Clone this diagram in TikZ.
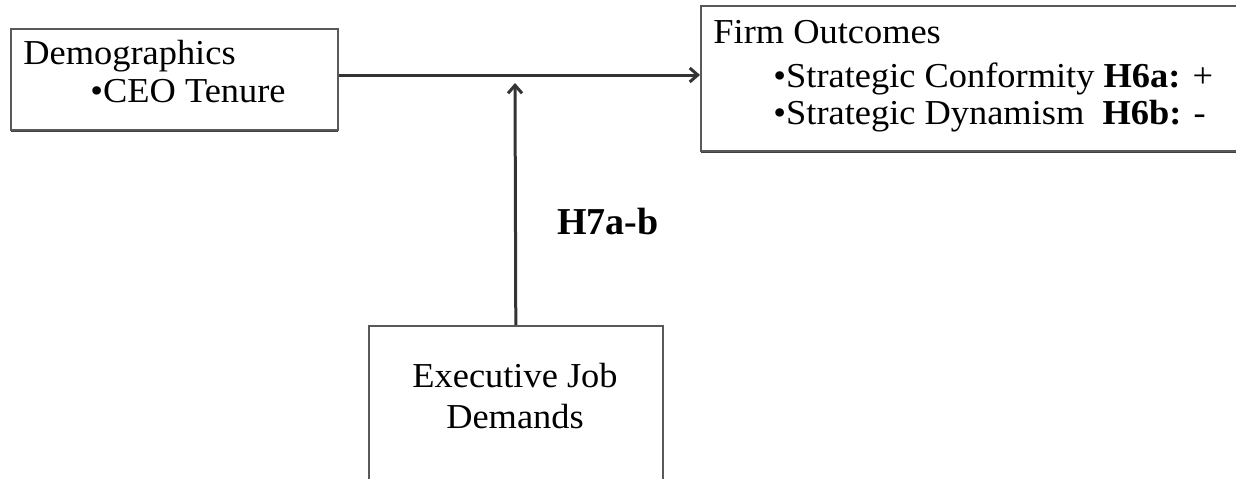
\documentclass[tikz,border=0pt]{standalone}
\usepackage{fontspec}
\setmainfont[FakeStretch=1.04]{Liberation Serif}
\newfontfamily\labelfont{Liberation Serif}
\usetikzlibrary{arrows.meta,shadows}

\begin{document}
\begin{tikzpicture}[x=0.5pt,y=-0.5pt,
  box/.style={draw=black!65, line width=0.8pt, fill=white, rectangle, inner sep=0pt,
    drop shadow={shadow xshift=0pt, shadow yshift=-1.3pt, fill=black!75, opacity=1}},
  txt/.style={anchor=base west, inner sep=0pt, font=\fontsize{17.5pt}{20pt}\selectfont},
  link/.style={line width=1.5pt, draw=black!80, -{Straight Barb[length=4pt,width=7pt]}}]
  \useasboundingbox (0,0) rectangle (1236,478);
  \clip (0,0) rectangle (1236,478);

  % boxes
  \node[box, minimum width=163.5pt, minimum height=50.5pt, anchor=north west] (dem) at (10,28) {};
  \node[box, minimum width=275pt, minimum height=72.5pt, anchor=north west] (firm) at (700,5) {};
  \node[box, minimum width=147pt, minimum height=87.5pt, anchor=north west] (exec) at (368,325) {};

  % box texts
  \node[txt] (demtitle) at (23,64) {Demographics};
  \node[txt] (tenure) at (90,102) {•CEO Tenure};
  \node[txt] (firmtitle) at (713,43) {Firm Outcomes};
  \node[txt] (conform) at (773,87) {•Strategic Conformity \textbf{H6a:} +};
  \node[txt] (dynam) at (773,124) {•Strategic Dynamism\ \ \textbf{H6b:} -};
  \node[txt, anchor=base, align=center] (execline1) at (515,387) {Executive Job};
  \node[txt, anchor=base, align=center] (execline2) at (515,428) {Demands};

  % arrows
  \coordinate (mainline) at (518,75);
  \coordinate (meet) at (515,83);
  \draw[link] (dem.east |- mainline) -- (firm.west |- mainline);
  \draw[link] (exec.north) -- (meet);

  \node[anchor=base west, inner sep=0pt, font=\labelfont\fontsize{19pt}{22pt}\selectfont\bfseries] (hyp) at (557,234) {H7a-b};
\end{tikzpicture}
\end{document}
